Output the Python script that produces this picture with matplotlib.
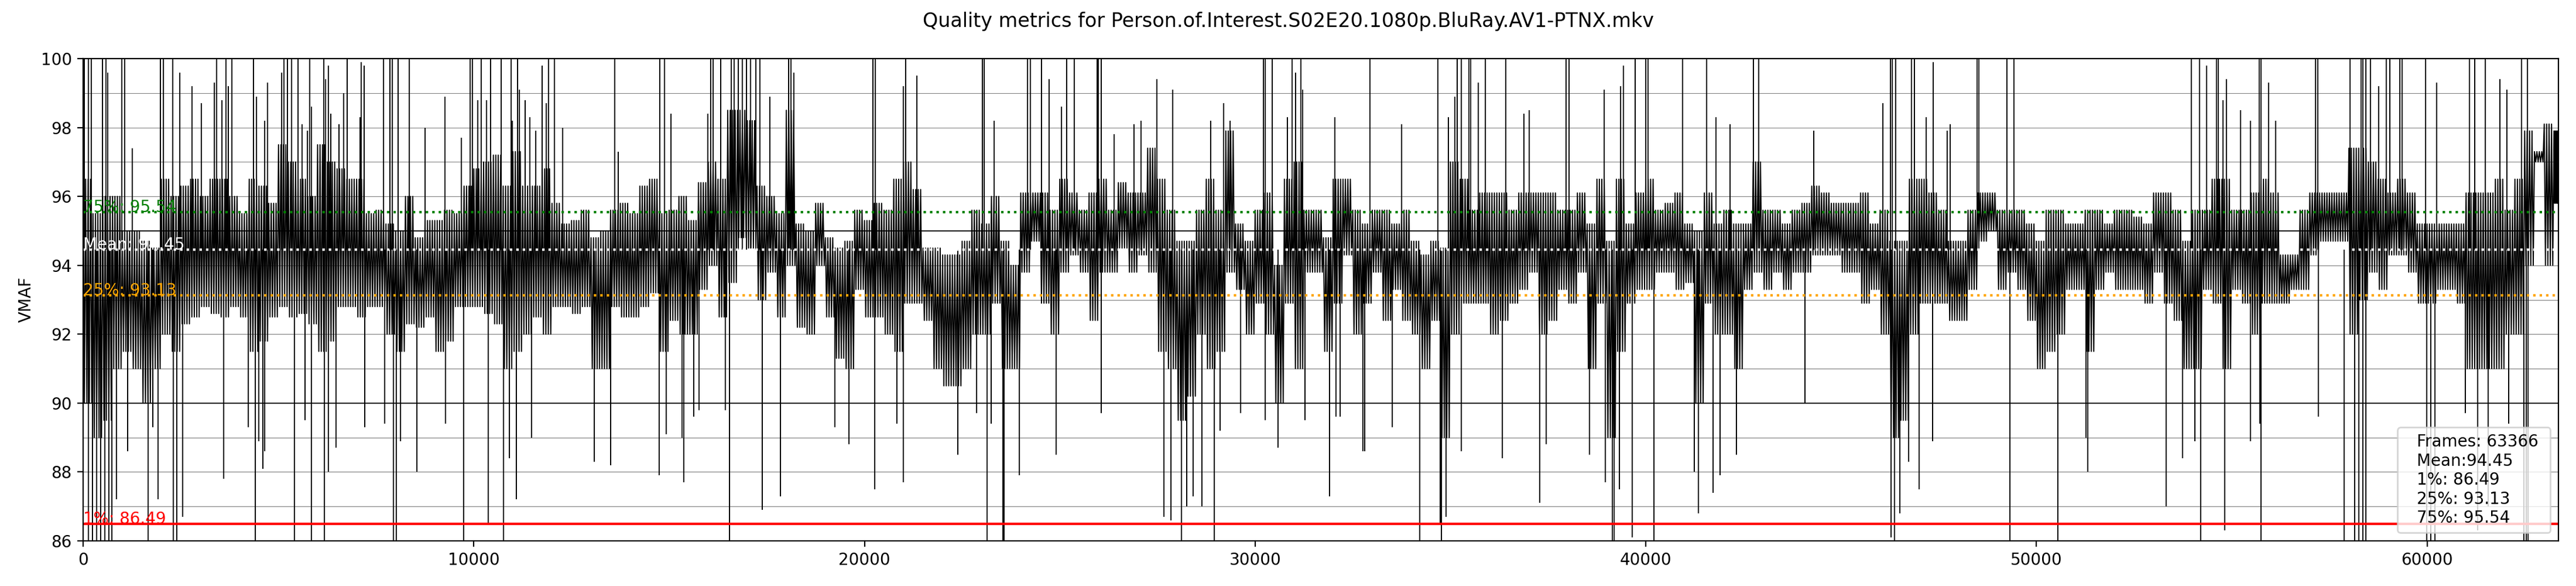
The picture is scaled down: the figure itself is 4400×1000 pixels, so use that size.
import numpy as np
import matplotlib
matplotlib.use("Agg")
import matplotlib.pyplot as plt

OUTPUT_FILE = "out.png"
TITLE = "Quality metrics for Person.of.Interest.S02E20.1080p.BluRay.AV1-PTNX.mkv"

N_FRAMES = 63366
BIN_SIZE = 250  # frames per bin

# Summary stats shown on the chart
MEAN = 94.45
PERC_1 = 86.49
PERC_25 = 93.13
PERC_75 = 95.54

# Per 250-frame bin: top and bottom of the dense band of scores
upper = [
    96.5, 95.5, 96, 96, 95, 95, 94.7, 94.5, 96.5, 96,
    96.3, 96.5, 96, 96.5, 96.5, 96, 95.5, 96.5, 96.3, 95.8,
    97.5, 97, 96.5, 96, 97.5, 97, 96.8, 96.5, 96.5, 95.5,
    95.6, 95.2, 95, 96, 94.8, 95.3, 95.3, 95.6, 95.5, 96.3,
    96.8, 97, 97.2, 96.3, 97.3, 96.3, 96.3, 96.8, 95.8, 95.2,
    95.3, 95.6, 94.8, 95, 95.6, 95.8, 95.5, 96.3,
    96.5, 95.5, 95.6, 96, 95.3, 96.4, 97, 96.5, 98.5, 98.5,
    98.2, 96.3, 96, 95.5, 98.5, 95.2, 95, 95.8, 94.8, 94.5,
    94.7, 95.6, 95.3, 95.8, 95.6, 96.5, 97, 96.2, 94.5, 94.5,
    94.3, 94.3,
    94.7, 95.6, 95.2, 96, 94.7, 94, 96.1, 96.1, 96.1, 95.6,
    96.5, 96.1, 95.6, 96.1, 96.5, 95.6, 96.4, 96.1, 96.1, 97.4,
    96.5, 95.6, 94.7, 94.7, 95.6, 96.5, 95.6, 97.9, 95.2, 94.7,
    95.6, 96.1, 94,
    96.5, 97, 95.6, 95.6, 94.8, 96.5, 96.5, 95.6, 95.2, 95.6,
    95.6, 95.2, 95.6, 94.7, 94.3, 94.7, 94.5, 97, 96.5, 95.6,
    96.1, 96.1, 96.1, 95.6, 96.1, 96.1, 96.1, 96.1, 95.6, 95.6,
    96.1, 95.2, 96.5,
    94.7, 96.5, 95.2, 96.1, 96.5, 95.6, 95.8, 96.1, 95.2, 95,
    96.1, 95.2, 95.6, 95.2, 95.2, 97, 95.6, 95.6, 95.2, 95.6,
    95.8, 96.3, 96.1, 95.8, 95.8, 95.8, 96.1, 95.2, 95.6, 94.7,
    94.7, 96.5, 96.5,
    96.1, 95.6, 94.7, 94.7, 95.6, 96.1, 96.1, 95.6, 95.6, 95.6,
    95.2, 94.7, 95.6, 95.6, 95.2, 95.2, 95.6, 95.6, 95.2, 95.6,
    95.6, 95.4, 95.2, 96.1, 96.1, 95.6, 94.7, 95.6, 95.6, 96.5,
    96.5, 95.6, 95.6,
    96.1, 96.5, 96.1, 94.3, 94.3, 95.6, 96.1, 96.1, 96.1, 96.1,
    97.4, 97.4, 97, 96.5, 96.1, 96.5, 96.1, 95.2, 95.2, 95.2,
    95.2, 95.2, 96.1, 96.1, 96.1, 96.5, 95.6, 96.5, 97.9, 97.3,
    98.1, 97.9,
]
lower = [
    90, 89, 89.5, 91, 91.5, 91, 90, 91, 92, 91.5,
    92.3, 92.5, 92.8, 92.6, 92.5, 92.8, 92.5, 91.5, 91.8, 92.5,
    92.8, 92.5, 92.6, 92.3, 91.5, 91.8, 92.8, 92.8, 92.5, 92.8,
    92.8, 92, 91.5, 92.3, 92.2, 92.5, 91.5, 91.8, 92.8, 92.8,
    92.8, 92.6, 92.3, 91, 91.5, 92, 92.5, 92, 92.8, 92.8,
    92.6, 92.8, 91, 91, 92.8, 92.5, 92.5, 92.8,
    93.2, 91.5, 92.4, 92, 92, 93.3, 94, 92.5, 93.5, 94.8,
    94.5, 93, 93.8, 92.5, 94, 92.2, 92, 94, 92.5, 91.3,
    91, 93.3, 92.5, 92.5, 92, 91.5, 92.9, 92.9, 92.4, 91,
    90.5, 90.5,
    91, 92, 92, 92.9, 91, 91, 93.8, 94.7, 92.9, 92,
    93.8, 94.3, 93.8, 92.4, 93.8, 93.8, 94.5, 93.8, 94.3, 93.8,
    91.5, 91, 89.5, 90.2, 92, 91, 91.5, 93.8, 93.3, 92,
    92.9, 92, 90,
    92.9, 91, 93.8, 93.8, 91.5, 92.9, 94.3, 92, 92.9, 93.8,
    92.4, 93.3, 92.4, 92, 91, 92.4, 89, 92, 92.9, 92.9,
    92.9, 92, 92.4, 92.9, 93.3, 93.8, 92, 92.4, 93.3, 92.9,
    93.8, 91, 92.9,
    89, 91.5, 92.9, 93.3, 93.3, 93.8, 93.8, 93.3, 93.5, 90,
    92.9, 92, 92, 91, 93.3, 93.8, 93.3, 93.8, 93.3, 93.8,
    93.8, 94.3, 94.3, 94.3, 93.8, 93.8, 92.9, 93.3, 92, 89,
    89.5, 92, 92.9,
    92.9, 92.9, 92.4, 92.4, 93.3, 94.7, 95, 93.3, 93.8, 93.3,
    92.4, 91, 91.5, 92, 93.3, 93.3, 91.5, 93.3, 93.8, 93.3,
    93.3, 93.3, 92.9, 93.8, 92.9, 92.4, 91, 91, 93.3, 92.9,
    91, 93.3, 92.9,
    92, 92.9, 92.9, 92.9, 93.3, 93.3, 94.3, 94.7, 94.7, 94.7,
    92, 93, 93.8, 93.3, 94.3, 94.3, 93.8, 92.9, 92.9, 93.3,
    93.3, 92.9, 91, 91, 91, 91, 92, 92, 94, 97,
    94, 95.8,
]

# Upward spikes: frame and peak score
up_frames = [
    26, 131, 205, 500, 583, 625, 983, 1056, 1256, 1971, 2045, 2286, 2475, 2780,
    3022, 3358, 3411, 3548, 3653, 3716, 3811, 4357, 4441, 4651, 4714, 5083,
    5146, 5230, 5335, 5493, 5609, 5735, 5798, 5840, 6156, 6208, 6282, 6334,
    6544, 6670, 6754, 7080, 7122, 7185, 7690, 7858, 7911, 8068, 8342, 8752,
    9267, 9677, 9908, 9961, 10097, 10192, 10318, 10434, 10696, 10959, 10991,
    11117, 11170, 11307, 11433, 11590, 11748, 11853, 11906, 12064, 12274,
    13609, 13693, 14767, 14883, 15040, 15987, 16066, 16118, 16318, 16591,
    16670, 16775, 16880, 16986, 17091, 17222, 17327, 17574, 18063, 18116,
    18195, 20219, 20271, 20991, 21060, 21338, 23022, 23064, 23311, 24178,
    24241, 24536, 24720, 25046, 25177, 25371, 25950, 25981, 26060, 26386,
    26896, 27080, 27480, 27889, 28867, 29199, 29356, 30213, 30250, 30444,
    30828, 30948, 31038, 31169, 31211, 32042, 32935, 33750, 34681, 34954,
    35112, 35180, 35285, 35469, 35522, 35716, 35890, 36415, 36878, 37020,
    37966, 38035, 38928, 39359, 39428, 39727, 40006, 40059, 40937, 41557,
    41793, 42151, 42750, 42897, 44306, 46067, 46262, 46314, 46393, 46803,
    46877, 47182, 47355, 47723, 47786, 48486, 48528, 49248, 49421, 53963,
    54179, 54358, 54610, 54652, 54778, 54867, 55225, 55477, 55703, 55756,
    55940, 56124, 57149, 57202, 58022, 58306, 58358, 58437, 58558, 58768,
    58963, 59042, 59305, 59368, 59962, 60251, 61081, 61223, 61486, 61870,
    62038, 62417, 62564,
]
up_values = [
    100, 100, 100, 100, 100, 99.6, 100, 100, 97.4, 100, 100, 100, 99.6, 99.2,
    98.7, 99.3, 100, 98.8, 100, 99.2, 100, 100, 98.9, 98.2, 99.3, 99.6,
    100, 100, 100, 100, 98.1, 97.9, 100, 98.6, 100, 99.4, 99.8, 98.4,
    98.1, 99, 100, 98.3, 99.9, 99.8, 100, 100, 100, 100, 100, 98,
    98.9, 97.7, 100, 100, 98.8, 100, 98.8, 100, 100, 100, 98.2,
    100, 99.1, 98.8, 98.3, 97.9, 99.8, 98.7, 100, 100, 98,
    100, 97.3, 100, 100, 98.4, 98.4, 100, 100, 100, 100,
    100, 100, 100, 100, 100, 100, 100, 98.9, 100, 100,
    99.6, 100, 100, 99.2, 100, 99.5, 100, 100, 98.2, 100,
    100, 100, 99.4, 98.6, 100, 100, 100, 100, 100, 97.8,
    98.1, 98.2, 99.4, 99.1, 98.2, 98.7, 98.2, 100, 100, 100,
    98.3, 100, 99.6, 100, 99.1, 98.3, 100, 98.1, 100, 98.3,
    98.9, 100, 100, 100, 100, 99.3, 100, 100, 98.4, 98.5,
    100, 100, 99.1, 99.2, 99.8, 100, 100, 100, 100, 100,
    98.3, 98.1, 100, 100, 97.9, 98.7, 100, 100, 100, 100,
    100, 98.3, 99.9, 97.9, 98.1, 100, 100, 100, 100, 100,
    100, 99.8, 100, 100, 98.8, 99.4, 98.5, 98.2, 100, 100,
    99.3, 98.2, 100, 100, 100, 100, 100, 100, 100, 99.2,
    100, 100, 100, 100, 100, 99.3, 100, 100, 100, 99.4,
    99.1, 100, 100,
]

# Downward dips: frame and lowest score
down_frames = [
    131, 236, 341, 447, 552, 657, 731, 846, 1130, 1655, 1782, 1918, 2307, 2391,
    2549, 3601, 4231, 4410, 4494, 4599, 4651, 5409, 5682, 5850, 6177, 6272,
    6471, 7206, 7721, 7942, 8014, 8119, 8540, 9275, 9747, 10376, 10765, 10902,
    11091, 11480, 13077, 13498, 14751, 14925, 15330, 15382, 15629, 15766,
    16434, 16539, 17390, 17853, 19246, 19603, 20255, 20823, 20991, 22390,
    22864, 23142, 23248, 23537, 23574, 23957, 24904, 26055, 27664, 27847,
    28121, 28242, 28410, 28636, 28951, 29104, 29630, 30261, 30592, 31279,
    31910, 32078, 32173, 32762, 32799, 33508, 34218, 34733, 34775, 34891,
    35275, 36321, 37283, 37446, 38560, 38965, 39139, 39191, 39323, 39654,
    40206, 41241, 41347, 41715, 41899, 42319, 44080, 46272, 46367, 46498,
    46735, 46998, 47345, 49316, 50546, 51272, 51309, 53322, 53743, 54058,
    54205, 54820, 55488, 55719, 55745, 57212, 57885, 58148, 58253, 58358,
    58437, 59988, 60093, 60198, 60987, 61302, 61565, 62091, 62485, 62538,
    62590,
]
down_values = [
    86, 86, 86, 86, 86, 86, 86, 87.2, 88.6, 86, 89.3, 87.2, 86, 86,
    86.7, 87.8, 89.3, 86, 88.9, 88.1, 88.6, 86, 89.5, 86, 86, 88,
    88.7, 89.3, 89.4, 86, 86, 88.9, 88, 89.4, 86, 86.5, 86, 88.4,
    87.2, 89, 88.3, 88.2, 87.9, 89.1, 89, 87.7, 89.6, 89.8,
    89.8, 86, 86.9, 87.3, 89.3, 88.8, 87.5, 89.4, 87.7, 88.5,
    89.7, 86, 89.4, 86, 86, 87.9, 88.5, 89.7, 86.7, 86.6,
    86, 87, 87.3, 87, 86, 89.2, 89.7, 89.5, 88.7, 89.5,
    87.3, 89.6, 89.6, 88.6, 88.6, 89.3, 86, 86.5, 86, 86.7,
    88.6, 88.4, 87.1, 88.8, 88.5, 87.7, 86, 86, 87.5, 86.1,
    86, 88, 86.8, 87.4, 87.9, 88.5, 90, 86.1, 86, 86.8,
    88.3, 87.5, 88.9, 86, 86, 89, 88, 87, 88.4, 88.9,
    86, 86.3, 88.9, 89.4, 86, 89.6, 86, 86, 86, 86,
    86, 86, 86, 86, 89.7, 86.3, 87, 89.4, 86, 86,
    86,
]


def band_trace(points_per_bin=8):
    # zig-zag between band top and bottom inside every bin
    starts = np.arange(len(upper)) * BIN_SIZE
    widths = np.minimum(BIN_SIZE, N_FRAMES - starts)
    offsets = np.arange(points_per_bin) / points_per_bin
    x = (starts[:, None] + widths[:, None] * offsets).ravel()
    pairs = np.column_stack([upper, lower] * (points_per_bin // 2))
    return x, pairs.ravel()


def plot_vmaf():
    x, y = band_trace()

    fig = plt.figure(figsize=(22, 5), dpi=200)
    ax = fig.add_subplot(111)

    # horizontal guides: grey every point, black every 5
    for i in range(86, 100):
        ax.axhline(i, color="grey", linewidth=0.4)
    for i in range(90, 100, 5):
        ax.axhline(i, color="black", linewidth=0.6)

    label = (f"Frames: {N_FRAMES} \nMean:{MEAN} \n"
             f"1%: {PERC_1} \n25%: {PERC_25} \n75%: {PERC_75}")
    ax.plot(x, y, color="black", linewidth=0.7, label=label)
    ax.vlines(up_frames, MEAN, up_values, color="black", linewidth=0.7)
    ax.vlines(down_frames, down_values, MEAN, color="black", linewidth=0.7)

    # percentile lines with their labels at the left edge
    ax.axhline(PERC_1, color="red", linewidth=1.5)
    ax.text(0, PERC_1, f"1%: {PERC_1}", color="red")
    ax.axhline(PERC_25, color="orange", linestyle=":", linewidth=1.5)
    ax.text(0, PERC_25, f"25%: {PERC_25}", color="orange")
    ax.axhline(MEAN, color="white", linestyle=":", linewidth=1.5)
    ax.text(0, MEAN, f"Mean: {MEAN}", color="white")
    ax.axhline(PERC_75, color="green", linestyle=":", linewidth=1.5)
    ax.text(0, PERC_75, f"75%: {PERC_75}", color="green")

    ax.set_ylabel("VMAF")
    ax.legend(loc="lower right", handlelength=0, fancybox=True)
    ax.set_ylim(86, 100)
    ax.set_xlim(0, N_FRAMES - 1)

    fig.suptitle(TITLE)
    fig.subplots_adjust(left=0.0323, right=0.9932, bottom=0.077, top=0.9)
    fig.savefig(OUTPUT_FILE, dpi=200)


if __name__ == "__main__":
    plot_vmaf()
